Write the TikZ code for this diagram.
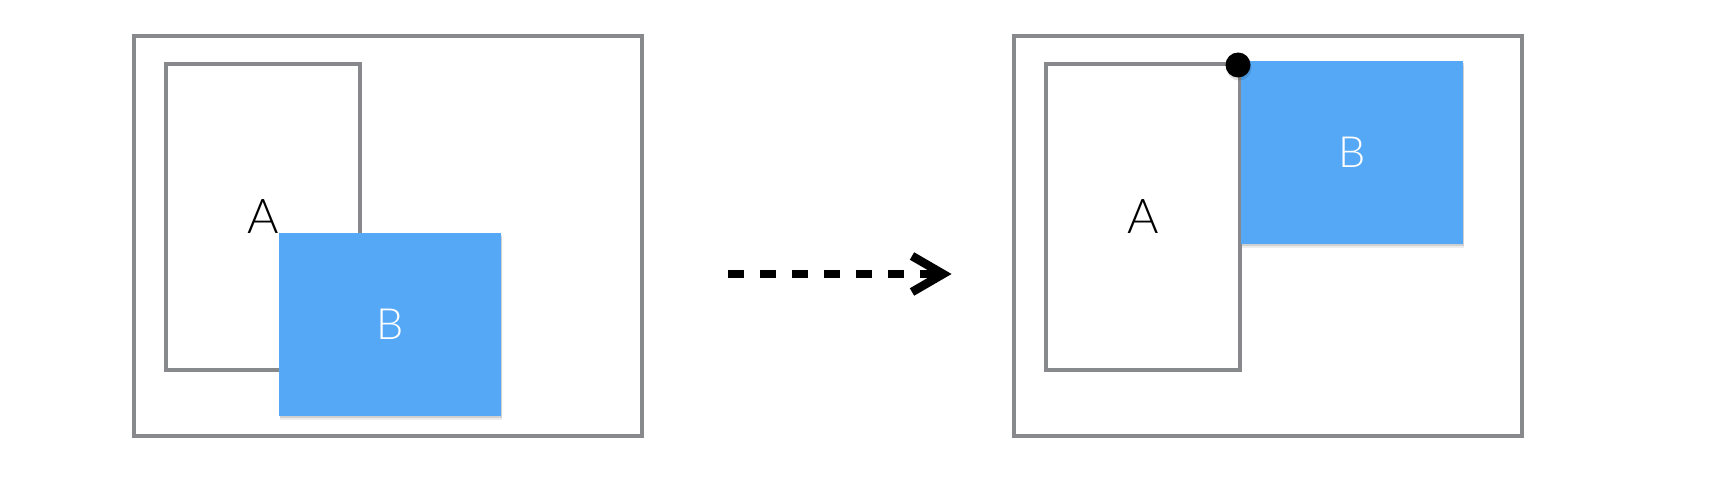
\documentclass[tikz,border=0pt]{standalone}
\usepackage{fontspec}
\setmainfont{Lato}[UprightFont={* Light}]
\usetikzlibrary{shadows}
\definecolor{boxgray}{RGB}{136,137,141}
\definecolor{bblue}{RGB}{85,168,245}
\begin{document}
\begin{tikzpicture}[x=0.5pt,y=-0.5pt,
  outerbox/.style={draw=boxgray,line width=2pt,fill=none,minimum width=254pt,minimum height=200pt,inner sep=0pt,outer sep=0pt},
  abox/.style={draw=boxgray,line width=2pt,fill=white,minimum width=97pt,minimum height=153pt,inner sep=0pt,outer sep=0pt,text=black,font=\fontsize{24}{24}\selectfont},
  bbox/.style={fill=bblue,minimum width=111pt,minimum height=91.5pt,inner sep=0pt,outer sep=0pt,text=white,font=\fontsize{21.5}{21.5}\selectfont,
    drop shadow={shadow xshift=0.5pt,shadow yshift=-2.2pt,opacity=0.07,fill=black},
    drop shadow={shadow xshift=0.3pt,shadow yshift=-1.2pt,opacity=0.12,fill=black}},
  arrowline/.style={line width=4pt,dash pattern=on 8pt off 8pt,line cap=butt},
  chevron/.style={line width=4.3pt,line cap=butt,line join=miter},
  pin/.style={circle,fill=black,minimum size=12.5pt,inner sep=0pt,
    drop shadow={shadow xshift=0.5pt,shadow yshift=-1.5pt,opacity=0.12,fill=black}}]
\useasboundingbox (0,0) rectangle (1716,476);
% left panel
\node[outerbox] (lo) at (388,236) {};
\node[abox] (la) at (263,217) {A};
\node[bbox] (lb) at (390,324.5) {B};
% right panel
\node[outerbox] (ro) at (1268,236) {};
\node[abox] (ra) at (1143,217) {A};
\node[bbox] (rb) at (1352,152.5) {B};
\node[pin] (dot) at ([shift={(-2,1)}]ra.north east) {};
% arrow
\coordinate (as) at (728,274);
\coordinate (ae) at (943,274);
\draw[arrowline] (as) -- (ae);
\draw[chevron] ([shift={(-31,-18)}]ae) -- (ae) -- ([shift={(-31,18)}]ae);
\end{tikzpicture}
\end{document}
